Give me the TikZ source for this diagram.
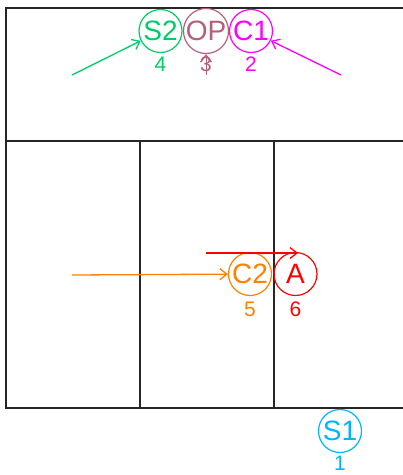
\documentclass[tikz,border=0pt]{standalone}
\usepackage{fontspec}
\setmainfont{Liberation Sans}
\usetikzlibrary{arrows.meta}
\definecolor{cS2}{RGB}{0,204,102}
\definecolor{cOP}{RGB}{180,96,120}
\definecolor{cC1}{RGB}{255,0,255}
\definecolor{cC2}{RGB}{255,128,0}
\definecolor{cA}{RGB}{255,0,0}
\definecolor{cS1}{RGB}{0,180,255}
\tikzset{
  state/.style={circle, draw, line width=1.2pt, minimum size=43pt, inner sep=0pt, font=\fontsize{28}{28}\selectfont},
  num/.style={font=\fontsize{21}{21}\selectfont, inner sep=0pt},
  wall/.style={line width=1.4pt, black!85},
  flow/.style={line width=1.3pt, -{Straight Barb[length=7pt, width=11pt, line width=1.3pt]}}
}
\begin{document}
\begin{tikzpicture}[x=1pt,y=-1pt]
\useasboundingbox (0,0) rectangle (403,475);
% walls
\coordinate (tl) at (6,8);
\coordinate (tr) at (404,8);
\coordinate (ml) at (6,141);
\coordinate (mr) at (404,141);
\coordinate (bl) at (6,408);
\coordinate (br) at (404,408);
\coordinate (v1t) at (140,141);
\coordinate (v1b) at (140,408);
\coordinate (v2t) at (274,141);
\coordinate (v2b) at (274,408);
\draw[wall] (tr) -- (tl) -- (bl) -- (br);
\draw[wall] (ml) -- (mr);
\draw[wall] (v1t) -- (v1b);
\draw[wall] (v2t) -- (v2b);
% states
\node[state, draw=cS2, text=cS2] (S2) at (160.5,31) {S2};
\node[state, draw=cOP, text=cOP] (OP) at (206,31) {OP};
\node[state, draw=cC1, text=cC1] (C1) at (251,31) {C1};
\node[state, draw=cC2, text=cC2] (C2) at (250,274) {C2};
\node[state, draw=cA, text=cA] (A) at (295.5,274) {A};
\node[state, draw=cS1, text=cS1] (S1) at (340,431) {S1};
% numbers
\node[num, text=cS2] (n4) at (160.5,64) {4};
\node[num, text=cOP] (n3) at (206,64) {3};
\node[num, text=cC1] (n2) at (251,64) {2};
\node[num, text=cC2] (n5) at (250,309) {5};
\node[num, text=cA] (n6) at (295.5,309) {6};
\node[num, text=cS1] (n1) at (340,463) {1};
% arrows
\coordinate (s2from) at (72,75);
\coordinate (c1from) at (341,75);
\coordinate (opfrom) at (206,75);
\coordinate (c2from) at (72,275);
\coordinate (afrom) at (206,253);
\coordinate (ato) at (298,253);
\draw[flow, draw=cS2] (s2from) -- (S2);
\draw[flow, draw=cC1] (c1from) -- (C1);
\draw[flow, draw=cOP, line width=1pt] (opfrom) -- (OP);
\draw[flow, draw=cC2] (c2from) -- (C2);
\draw[flow, draw=cA] (afrom) -- (ato);
\end{tikzpicture}
\end{document}
